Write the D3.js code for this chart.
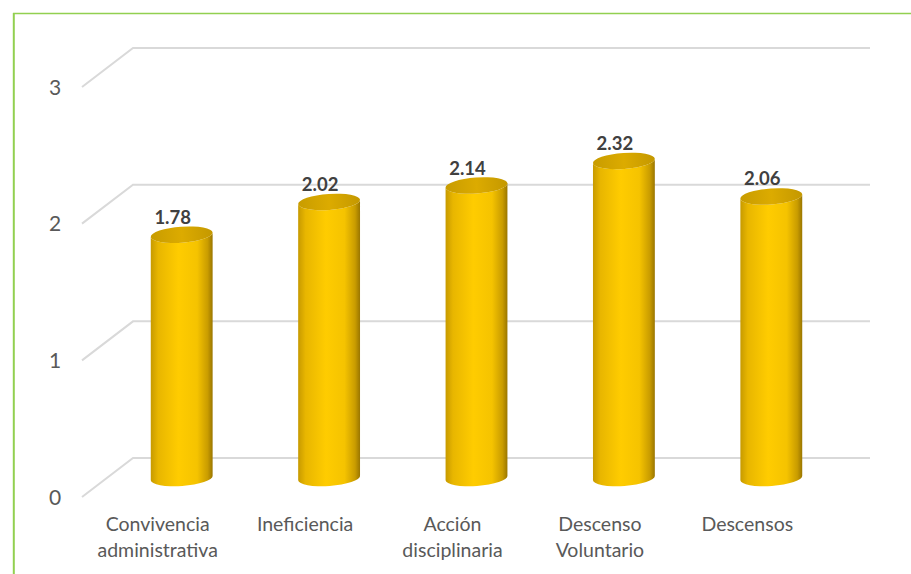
<!DOCTYPE html>
<html>
<head>
<meta charset="utf-8">
<script src="https://cdn.jsdelivr.net/npm/d3@7"></script>
<style>
  body { margin:0; background:#fff; }
  svg { display:block; }
</style>
</head>
<body>
<script>
// chart data
var categories = [["Convivencia","administrativa"],["Ineficiencia"],["Acción","disciplinaria"],["Descenso","Voluntario"],["Descensos"]];
var values = [1.78, 2.02, 2.14, 2.32, 2.06];
var yTicks = [0, 1, 2, 3];

var width = 911, height = 574;
var svg = d3.select("body").append("svg")
    .attr("width", width)
    .attr("height", height);

var defs = svg.append("defs");
var bodyGrad = defs.append("linearGradient").attr("id","cylBody")
    .attr("x1","0%").attr("x2","100%").attr("y1","0%").attr("y2","0%");
bodyGrad.append("stop").attr("offset","0%").attr("stop-color","#c79a00");
bodyGrad.append("stop").attr("offset","12%").attr("stop-color","#e8b600");
bodyGrad.append("stop").attr("offset","45%").attr("stop-color","#ffcc00");
bodyGrad.append("stop").attr("offset","75%").attr("stop-color","#f5c300");
bodyGrad.append("stop").attr("offset","92%").attr("stop-color","#c99c00");
bodyGrad.append("stop").attr("offset","100%").attr("stop-color","#9a7600");
var topGrad = defs.append("linearGradient").attr("id","cylTop")
    .attr("x1","0%").attr("x2","100%").attr("y1","0%").attr("y2","0%");
topGrad.append("stop").attr("offset","0%").attr("stop-color","#c89c00");
topGrad.append("stop").attr("offset","50%").attr("stop-color","#dcab00");
topGrad.append("stop").attr("offset","100%").attr("stop-color","#c49800");

// green frame
svg.append("line").attr("x1",13).attr("x2",width).attr("y1",13.5).attr("y2",13.5)
    .attr("stroke","#92d050").attr("stroke-width",1.5);
svg.append("line").attr("x1",13.8).attr("x2",13.8).attr("y1",13).attr("y2",height)
    .attr("stroke","#92d050").attr("stroke-width",2);

// scales: back wall, front edge, bar base plane
var yBack = d3.scaleLinear().domain([0,3]).range([458,48]);
var yFront = d3.scaleLinear().domain([0,3]).range([497,87]);
var yBar = d3.scaleLinear().domain([0,3]).range([478,68]);
var x = d3.scaleBand().domain(d3.range(values.length)).range([108,845]);

// gridlines
var grid = svg.append("g");
yTicks.forEach(function(t){
  grid.append("polyline")
    .attr("points", [[82,yFront(t)],[133,yBack(t)],[870,yBack(t)]].join(" "))
    .attr("fill","none").attr("stroke","#d9d9d9").attr("stroke-width",2);
});

// y labels
svg.append("g").selectAll("text").data(yTicks).enter().append("text")
    .attr("x",55).attr("y",function(d){ return yFront(d); })
    .attr("dy","0.36em")
    .attr("text-anchor","middle")
    .attr("font-family","Lato, sans-serif").attr("font-size",21)
    .attr("fill","#595959")
    .text(function(d){ return d; });

// cylinders
var rx = 31, ry = 8, rot = -4;
var ca = Math.cos(rot*Math.PI/180), sa = Math.sin(rot*Math.PI/180);
var bars = svg.append("g").selectAll("g").data(values).enter().append("g");
bars.append("path")
    .attr("fill","url(#cylBody)")
    .attr("d", function(d,i){
      var cx = x(i) + x.bandwidth()/2;
      var yt = yBar(d), yb = yBar(0);
      var lx = cx - rx*ca, ly = -rx*sa, rxp = cx + rx*ca, ry2 = rx*sa;
      return "M"+lx+","+(yt+ly)+
        "L"+lx+","+(yb+ly)+
        "A"+rx+","+ry+" "+rot+" 0 0 "+rxp+","+(yb+ry2)+
        "L"+rxp+","+(yt+ry2)+
        "A"+rx+","+ry+" "+rot+" 0 1 "+lx+","+(yt+ly)+"Z";
    });
bars.append("ellipse")
    .attr("cx", function(d,i){ return x(i) + x.bandwidth()/2; })
    .attr("cy", function(d){ return yBar(d); })
    .attr("rx", rx).attr("ry", ry)
    .attr("transform", function(d,i){ return "rotate("+rot+","+(x(i)+x.bandwidth()/2)+","+yBar(d)+")"; })
    .attr("fill","url(#cylTop)");

// value labels
bars.append("text")
    .attr("x", function(d,i){ return x(i) + x.bandwidth()/2 - 9; })
    .attr("y", function(d){ return yBar(d) - ry - 3; })
    .attr("text-anchor","middle")
    .attr("font-family","Lato, sans-serif").attr("font-weight","bold").attr("font-size",18.5)
    .attr("fill","#404040")
    .text(function(d){ return d.toFixed(2); });

// category labels
var cat = svg.append("g").selectAll("text").data(categories).enter().append("text")
    .attr("x", function(d,i){ return x(i) + x.bandwidth()/2 - 24; })
    .attr("y", 531)
    .attr("text-anchor","middle")
    .attr("font-family","Lato, sans-serif").attr("font-size",19.5)
    .attr("fill","#595959");
cat.selectAll("tspan").data(function(d){ return d; }).enter().append("tspan")
    .attr("x", function(){ return d3.select(this.parentNode).attr("x"); })
    .attr("dy", function(d,i){ return i ? 26 : 0; })
    .text(function(d){ return d; });
</script>
</body>
</html>
